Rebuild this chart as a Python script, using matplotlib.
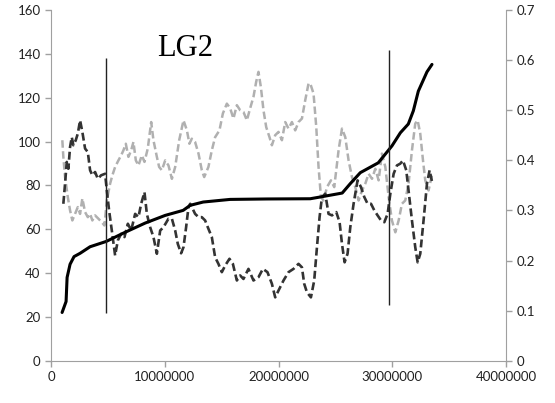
import matplotlib.pyplot as plt
from matplotlib.ticker import FuncFormatter
import numpy as np

# black solid curve (left axis), position in Mb
black_pos = [0.97, 1.32, 1.41, 1.67, 2.02, 2.55, 3.43, 4.31, 4.84, 6.51, 8.27, 10.03, 11.61,
             12.23, 13.37, 15.74, 19.0, 22.78, 23.66, 25.59, 26.3, 27.18, 28.76, 29.96, 30.7,
             31.4, 31.84, 32.28, 33.04, 33.48]
black_val = [22, 27, 38, 44, 47.5, 49, 52, 53.5, 54.4, 58.6, 62.8, 66.3, 68.6, 70.9, 72.4, 73.6,
             73.8, 73.9, 74.7, 76.5, 80.8, 85.8, 90.3, 98, 104, 108, 114, 123, 131.8, 135.2]

# dark dashed curve
dark_pos = [1.08, 1.23, 1.38, 1.52, 1.67, 1.82, 1.96, 2.17, 2.35, 2.55, 2.75, 2.99, 3.23, 3.43,
            3.63, 3.87, 4.11, 4.40, 4.75, 4.90, 5.10, 5.34, 5.63, 5.87, 6.16, 6.45, 6.75, 7.04,
            7.39, 7.68, 7.92, 8.21, 8.42, 8.71, 9.00, 9.30, 9.59, 9.88, 10.32, 10.62, 10.91,
            11.14, 11.43, 11.64, 11.87, 12.08, 12.23, 12.66, 12.96, 13.25, 13.54, 13.83, 14.13,
            14.42, 14.71, 15.01, 15.30, 15.68, 15.98, 16.33, 16.62, 16.91, 17.35, 17.79, 18.23,
            18.62, 19.02, 19.41, 19.70, 19.99, 20.43, 20.87, 21.31, 21.75, 22.05, 22.25, 22.49,
            22.84, 23.13, 23.37, 23.60, 23.81, 24.10, 24.39, 24.69, 25.07, 25.36, 25.57, 25.80,
            26.06, 26.30, 26.59, 26.94, 27.24, 27.53, 27.82, 28.12, 28.41, 28.70, 29.00, 29.29,
            29.58, 29.82, 30.11, 30.40, 30.69, 30.93, 31.22, 31.42, 31.72, 32.01, 32.22, 32.45,
            32.74, 33.04, 33.27, 33.47]
dark_val = [71.6, 80.8, 90.7, 87.6, 97.5, 102, 98.3, 100.6, 103.6, 109.7, 104.4, 96.8, 95.2,
            86.9, 84.6, 86.1, 83, 84.6, 85.3, 77.7, 68.6, 59.4, 48, 54.9, 57.9, 56.4, 62.5, 59.4,
            67, 65.5, 71.6, 76.9, 67, 60.9, 56.4, 48.8, 59.4, 60.9, 64.8, 64.8, 59.4, 53.3, 49,
            51.8, 60.9, 70.1, 71.6, 67, 65.5, 65.5, 64, 60.2, 56.4, 47.2, 44.2, 40.4, 43.4, 46.5,
            44.2, 36.6, 38.9, 37.3, 41.9, 36.6, 38.1, 41.9, 40.4, 35.1, 28.9, 32, 36.6, 40.4,
            41.9, 44.2, 42.6, 35.1, 31.2, 28.9, 36.6, 51.8, 65.5, 74.7, 76.2, 67, 66.3, 67.8,
            63.2, 53.3, 44.9, 48.8, 60.9, 71.6, 82.3, 79.2, 74.7, 71.6, 71.6, 68.6, 66.3, 64,
            63.2, 67, 76.2, 85.3, 89.1, 89.9, 91.4, 86.9, 77.7, 64, 51.8, 44.9, 48.8, 64, 80.8,
            86.9, 82]

# light grey dashed curve
grey_pos = [0.99, 1.08, 1.23, 1.47, 1.67, 1.87, 2.11, 2.35, 2.55, 2.75, 2.99, 3.23, 3.43, 3.63,
            3.87, 4.16, 4.46, 4.69, 4.90, 5.19, 5.39, 5.63, 5.92, 6.16, 6.36, 6.57, 6.80, 7.04,
            7.24, 7.45, 7.68, 7.98, 8.21, 8.50, 8.80, 9.00, 9.30, 9.50, 9.74, 10.03, 10.32,
            10.62, 10.91, 11.26, 11.64, 11.94, 12.16, 12.37, 12.66, 12.96, 13.25, 13.46, 13.83,
            14.13, 14.42, 14.80, 15.10, 15.45, 15.74, 16.03, 16.33, 16.62, 16.91, 17.21, 17.50,
            17.79, 18.03, 18.23, 18.44, 18.67, 18.91, 19.20, 19.41, 19.70, 19.99, 20.29, 20.58,
            20.87, 21.17, 21.46, 21.75, 22.05, 22.34, 22.63, 22.78, 23.07, 23.31, 23.51, 23.72,
            23.95, 24.25, 24.60, 24.89, 25.27, 25.57, 25.86, 26.15, 26.45, 26.74, 27.03, 27.33,
            27.62, 27.91, 28.21, 28.50, 28.79, 29.08, 29.38, 29.67, 29.96, 30.26, 30.55, 30.84,
            31.13, 31.42, 31.72, 32.01, 32.22, 32.45, 32.69, 32.89, 33.18, 33.47]
grey_val = [100.6, 93, 83.8, 74.7, 68.6, 64, 67, 70.1, 67, 74, 67.8, 65.5, 67, 64, 66.3, 64.8,
            63.2, 61.7, 73.1, 80.8, 84.6, 88.4, 91.4, 93.7, 96, 99, 93, 96, 99.8, 91.4, 89.1,
            93.7, 90.7, 96.8, 108.9, 100.6, 93, 88.4, 86.9, 91.4, 89.1, 83, 88.4, 100.6, 109.7,
            105.1, 99, 101.3, 99.8, 94.5, 86.9, 83.8, 88.4, 96, 102, 105.1, 112.8, 117.3, 115.2,
            110.5, 116.6, 114.3, 113.5, 109.7, 115.2, 120.4, 127.3, 131.8, 124.9, 114.3, 106.6,
            102, 98.3, 102.9, 104.4, 100.6, 108.9, 105.9, 108.9, 105.1, 108.9, 110.5, 118.9,
            126.5, 126.5, 121.9, 106.6, 88.4, 74.7, 73.1, 79.2, 82.3, 79.2, 96, 105.9, 102,
            91.4, 83.8, 79.2, 73.1, 77.7, 80.8, 85.3, 83, 87.6, 82.3, 94.5, 88.4, 74.7, 64,
            58.6, 64, 71.6, 73.1, 80.8, 96, 108.2, 109.7, 103.6, 91.4, 82.3, 77.7, 84.6]

# vertical markers: position (Mb), bottom, top
marker_pos = [4.84, 29.73]
marker_lo = [21.8, 25.5]
marker_hi = [138, 141.7]

MB = 1e6

fig = plt.figure(figsize=(5.55, 4.03), dpi=100)
ax = fig.add_axes([0.092, 0.105, 0.82, 0.870])
ax2 = ax.twinx()

ax.plot(np.array(grey_pos) * MB, grey_val, color='#b0b0b0', lw=1.8, dashes=(3, 1.4))
ax.plot(np.array(dark_pos) * MB, dark_val, color='#333333', lw=1.9, dashes=(3, 1.4))
ax.plot(np.array(black_pos) * MB, black_val, color='black', lw=2.2, solid_capstyle='round')
ax.vlines(np.array(marker_pos) * MB, marker_lo, marker_hi, color='#222222', lw=1.0)

ax.text(11.8 * MB, 142.4, 'LG2', family='Liberation Serif', fontsize=22,
        ha='center', va='center')

ax.set_xlim(0, 40 * MB)
ax.set_ylim(0, 160)
ax.set_xticks(np.arange(0, 41, 10) * MB)
ax.set_yticks(range(0, 161, 20))
ax.xaxis.set_major_formatter(FuncFormatter(lambda v, p: f'{int(v)}'))
ax2.set_ylim(0, 0.7)
ax2.set_yticks(np.arange(0, 0.71, 0.1))
ax2.yaxis.set_major_formatter(FuncFormatter(lambda v, p: f'{v:.1f}' if v > 0 else '0'))

for a in (ax, ax2):
    a.spines['top'].set_visible(False)
    for s in ('left', 'right', 'bottom'):
        a.spines[s].set_color('#a0a0a0')
    a.tick_params(colors='#a0a0a0', length=4, width=1, labelcolor='#222222',
                  labelsize=9.5, direction='out')
    for lab in a.get_xticklabels() + a.get_yticklabels():
        lab.set_family('Lato')
ax.spines['right'].set_visible(False)
ax2.spines['left'].set_visible(False)
ax2.spines['bottom'].set_visible(False)

fig.savefig('out.png', dpi=100)
